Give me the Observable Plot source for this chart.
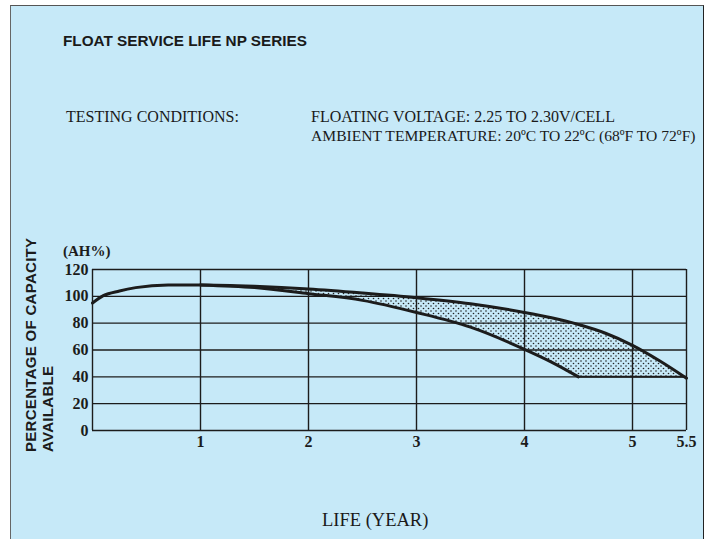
<!DOCTYPE html>
<html>
<head>
<meta charset="utf-8">
<script src="https://cdn.jsdelivr.net/npm/d3@7"></script>
<script src="https://cdn.jsdelivr.net/npm/@observablehq/plot@0.6"></script>
<style>
  html, body { margin: 0; padding: 0; background: #fff; }
  #wrap { position: relative; width: 704px; height: 539px; overflow: hidden; background: #fff; }
  #panel { position: absolute; left: 10px; top: 5px; width: 692px; height: 540px; background: #c6e9f8;
           border-left: 1.5px solid #666; border-top: 1.5px solid #555; border-right: 1.5px solid #222; }
  .t { position: absolute; white-space: nowrap; color: #1a1a1a; }
  .sans { font-family: "Liberation Sans", Arial, sans-serif; }
  .serif { font-family: "Liberation Serif", "Times New Roman", serif; }
  #chart { position: absolute; left: 0; top: 0; }
</style>
</head>
<body>
<div id="wrap">
  <div id="panel"></div>
  <div class="t sans" style="left:63px; top:32px; font-size:15.3px; font-weight:bold;">FLOAT SERVICE LIFE NP SERIES</div>
  <div class="t serif" style="left:66px; top:108px; font-size:16px;">TESTING CONDITIONS:</div>
  <div class="t serif" style="left:311px; top:108px; font-size:16px;">FLOATING VOLTAGE: 2.25 TO 2.30V/CELL</div>
  <div class="t serif" style="left:311px; top:127px; font-size:15.6px;">AMBIENT TEMPERATURE: 20ºC TO 22ºC (68ºF TO 72ºF)</div>
  <div class="t serif" style="left:322px; top:510px; font-size:18.5px;">LIFE (YEAR)</div>
  <div id="chart"></div>
</div>
<script>
// Data
const upperX = [0, 0.1, 0.25, 0.4, 0.7, 1, 1.5, 2, 2.5, 3, 3.5, 4, 4.25, 4.5, 4.75, 5, 5.25, 5.5];
const upperY = [95, 100.5, 104, 106.5, 108.5, 108.5, 107.5, 105.5, 102.5, 99, 94.5, 88, 84, 79, 72.5, 63.5, 52, 39];
const lowerX = [1, 1.5, 2, 2.5, 3, 3.5, 4, 4.25, 4.5];
const lowerY = [108.5, 106.5, 102, 97, 88, 77, 60.5, 51, 40];
// shaded band: x, top and bottom edges
const bandX = [1, 1.5, 2, 2.5, 3, 3.5, 4, 4.25, 4.5, 4.75, 5, 5.25, 5.5];
const bandTop = [108.5, 107.5, 105.5, 102.5, 99, 94.5, 88, 84, 79, 72.5, 63.5, 52, 39];
const bandBottom = [108.5, 106.5, 102, 97, 88, 77, 60.5, 51, 40, 40, 40, 40, 39];
const yTicks = [0, 20, 40, 60, 80, 100, 120];
const xTicks = [1, 2, 3, 4, 5, 5.5];
const xTickLabels = ["1", "2", "3", "4", "5", "5.5"];

const upper = upperX.map((x, i) => ({x, y: upperY[i]}));
const lower = lowerX.map((x, i) => ({x, y: lowerY[i]}));
const band = bandX.map((x, i) => ({x, y1: bandBottom[i], y2: bandTop[i]}));

const ink = "#1c1c1c";
const chart = Plot.plot({
  width: 704,
  height: 539,
  marginLeft: 92,
  marginRight: 18,
  marginTop: 269,
  marginBottom: 109,
  style: {background: "transparent", fontFamily: "Liberation Serif, serif", fontWeight: "bold", fontSize: "16px", color: ink},
  x: {domain: [0, 5.5], ticks: xTicks, tickFormat: (d) => xTickLabels[xTicks.indexOf(d)], tickSize: 0, tickPadding: 5, label: null},
  y: {domain: [0, 120], ticks: yTicks, tickSize: 0, tickPadding: 4, label: null},
  marks: [
    Plot.areaY(band, {x: "x", y1: "y1", y2: "y2", fill: "url(#dots)", curve: "monotone-x"}),
    Plot.ruleY(yTicks, {stroke: ink, strokeWidth: 1.4}),
    Plot.ruleX(xTicks, {stroke: ink, strokeWidth: 1.4}),
    Plot.ruleX([0], {stroke: ink, strokeWidth: 1.4}),
    Plot.line(lower, {x: "x", y: "y", stroke: ink, strokeWidth: 3, curve: "monotone-x"}),
    Plot.line(upper, {x: "x", y: "y", stroke: ink, strokeWidth: 3, curve: "monotone-x"}),
    Plot.ruleY([40], {x1: 4.5, x2: 5.5, stroke: ink, strokeWidth: 2})
  ]
});

// dotted pattern definition
const ns = "http://www.w3.org/2000/svg";
const defs = document.createElementNS(ns, "defs");
const pat = document.createElementNS(ns, "pattern");
pat.setAttribute("id", "dots");
pat.setAttribute("patternUnits", "userSpaceOnUse");
pat.setAttribute("width", "5");
pat.setAttribute("height", "5");
[[1, 1], [3.5, 3.5]].forEach(([cx, cy]) => {
  const c = document.createElementNS(ns, "circle");
  c.setAttribute("cx", cx); c.setAttribute("cy", cy); c.setAttribute("r", "0.8");
  c.setAttribute("fill", "#222");
  pat.appendChild(c);
});
defs.appendChild(pat);
chart.insertBefore(defs, chart.firstChild);

// axis title texts inside the svg
const addText = (txt, x, y, opts) => {
  const t = document.createElementNS(ns, "text");
  t.textContent = txt;
  t.setAttribute("x", x); t.setAttribute("y", y);
  t.setAttribute("text-anchor", "start");
  for (const k in opts) t.setAttribute(k, opts[k]);
  chart.appendChild(t);
};
addText("(AH%)", 63, 256, {"font-family": "Liberation Serif, serif", "font-weight": "bold", "font-size": "15px", fill: ink});
addText("PERCENTAGE OF CAPACITY", 0, 0, {"font-family": "Liberation Sans, sans-serif", "font-weight": "bold", "font-size": "15px", fill: ink, transform: "translate(36,452) rotate(-90)", "letter-spacing": "0.3px"});
addText("AVAILABLE", 0, 0, {"font-family": "Liberation Sans, sans-serif", "font-weight": "bold", "font-size": "15px", fill: ink, transform: "translate(53,452) rotate(-90)", "letter-spacing": "0.3px"});

document.getElementById("chart").appendChild(chart);
</script>
</body>
</html>
